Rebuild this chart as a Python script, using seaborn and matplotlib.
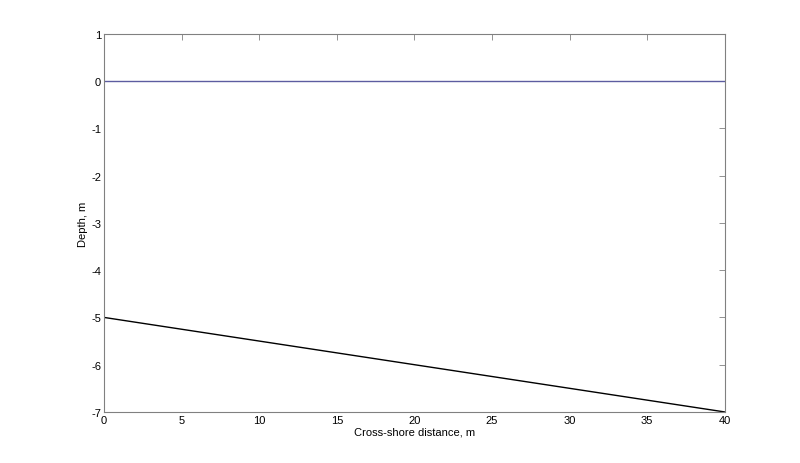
import pandas as pd
import numpy as np
import matplotlib
matplotlib.use('Agg')
import matplotlib.pyplot as plt
import seaborn as sns

# data
distance = [0, 40]
sea_level = [0, 0]
bed_depth = [-5, -7]

df = pd.DataFrame({'x': distance, 'sea': sea_level, 'bed': bed_depth})

sns.set_style('white')
plt.rcParams['font.family'] = ['Liberation Sans', 'DejaVu Sans']
plt.rcParams['axes.unicode_minus'] = False
plt.rcParams['text.color'] = 'black'
plt.rcParams['axes.labelcolor'] = 'black'
plt.rcParams['xtick.labelcolor'] = 'black'
plt.rcParams['ytick.labelcolor'] = 'black'

fig = plt.figure(figsize=(8, 4.64), dpi=100)
ax = fig.add_axes([0.13, 0.11, 0.776, 0.815])

sns.lineplot(data=df, x='x', y='sea', color='#5c5ca0', linewidth=1.0, ax=ax)
sns.lineplot(data=df, x='x', y='bed', color='black', linewidth=1.0, ax=ax)

ax.set_xlim(0, 40)
ax.set_ylim(-7, 1)
ax.set_xticks(np.arange(0, 41, 5))
ax.set_yticks(np.arange(-7, 2, 1))
ax.tick_params(direction='in', length=4, width=0.6, color='#808080',
               top=True, right=True, labelsize=8, pad=2)
for s in ax.spines.values():
    s.set_color('#808080')
    s.set_linewidth(0.8)

ax.set_xlabel('Cross-shore distance, m', fontsize=8, labelpad=1)
ax.set_ylabel('Depth, m', fontsize=8, labelpad=2)

fig.savefig('out.png', dpi=100)
